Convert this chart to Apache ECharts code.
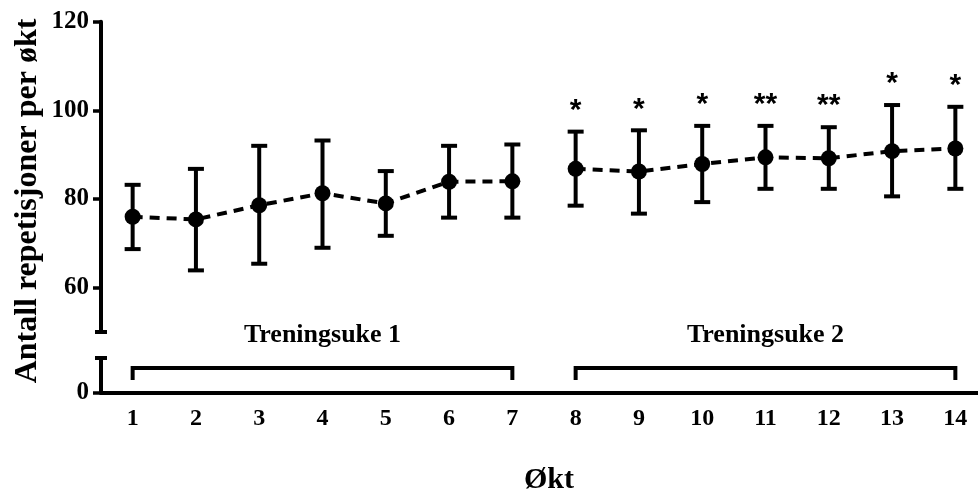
<!DOCTYPE html>
<html>
<head>
<meta charset="utf-8">
<script src="https://cdn.jsdelivr.net/npm/echarts@6/dist/echarts.min.js"></script>
<style>
  html, body { margin: 0; padding: 0; background: #fff; }
  #chart { width: 978px; height: 494px; }
</style>
</head>
<body>
<div id="chart"></div>
<script>
// data
var sessions = ["1", "2", "3", "4", "5", "6", "7", "8", "9", "10", "11", "12", "13", "14"];
var means = [76.0, 75.4, 78.6, 81.3, 79.0, 83.9, 84.0, 86.8, 86.2, 87.9, 89.4, 89.2, 90.8, 91.4];
var lower = [68.7, 63.9, 65.4, 69.0, 71.7, 75.8, 75.8, 78.5, 76.7, 79.3, 82.3, 82.3, 80.6, 82.3];
var upper = [83.2, 86.8, 92.0, 93.2, 86.3, 92.0, 92.3, 95.2, 95.5, 96.5, 96.5, 96.2, 101.2, 100.8];
var sig = ["", "", "", "", "", "", "", "*", "*", "*", "**", "**", "*", "*"];
var week1 = [0, 6];
var week2 = [7, 13];
var weekLabels = ["Treningsuke 1", "Treningsuke 2"];
var weekLabelPos = [3.1, 10.35];
var topTicks = [60, 80, 100, 120];

var serif = '"Liberation Serif", "Times New Roman", serif';

var chart = echarts.init(document.getElementById("chart"));

function weekData(range) {
  return means.map(function (v, i) {
    return i >= range[0] && i <= range[1] ? v : "-";
  });
}

var lineCommon = {
  type: "line",
  xAxisIndex: 0,
  yAxisIndex: 0,
  symbol: "circle",
  symbolSize: 16,
  connectNulls: false,
  itemStyle: { color: "#000" },
  lineStyle: { color: "#000", width: 4, type: [10, 7] },
  z: 5,
  animation: false
};

var option = {
  backgroundColor: "#fff",
  animation: false,
  grid: [
    { left: 101, top: 21.7, width: 886, height: 310.3, outerBoundsMode: "none" },
    { left: 101, top: 358, width: 886, height: 35, outerBoundsMode: "none" }
  ],
  xAxis: [
    {
      gridIndex: 0,
      type: "category",
      data: sessions,
      boundaryGap: true,
      show: false
    },
    {
      gridIndex: 1,
      type: "category",
      data: sessions,
      boundaryGap: true,
      name: "Økt",
      nameLocation: "middle",
      nameGap: 72,
      nameTextStyle: { fontFamily: serif, fontWeight: "bold", fontSize: 30, color: "#000", padding: [0, 0, 0, 10] },
      axisLine: { lineStyle: { color: "#000", width: 4 } },
      axisTick: { alignWithLabel: true, length: 6, lineStyle: { color: "#000", width: 3 } },
      axisLabel: { fontFamily: serif, fontWeight: "bold", fontSize: 24, color: "#000", margin: 14 },
      splitLine: { show: false }
    }
  ],
  yAxis: [
    {
      gridIndex: 0,
      type: "value",
      min: 50,
      max: 120,
      axisLine: { show: true, lineStyle: { color: "#000", width: 4 } },
      axisTick: { show: true, length: 8, customValues: topTicks, lineStyle: { color: "#000", width: 3.5 } },
      axisLabel: { customValues: topTicks, fontFamily: serif, fontWeight: "bold", fontSize: 25, color: "#000", margin: 12 },
      splitLine: { show: false }
    },
    {
      gridIndex: 1,
      type: "value",
      min: 0,
      max: 8,
      axisLine: { show: true, lineStyle: { color: "#000", width: 4 } },
      axisTick: { show: true, length: 8, customValues: [0], lineStyle: { color: "#000", width: 3.5 } },
      axisLabel: { customValues: [0], fontFamily: serif, fontWeight: "bold", fontSize: 25, color: "#000", margin: 12 },
      splitLine: { show: false }
    }
  ],
  graphic: [
    {
      type: "text",
      x: 28,
      y: 201,
      rotation: Math.PI / 2,
      style: {
        text: "Antall repetisjoner per økt",
        font: 'bold 32px ' + serif,
        fill: "#000",
        align: "center",
        verticalAlign: "middle"
      }
    }
  ],
  series: [
    // error bars + significance stars
    {
      type: "custom",
      xAxisIndex: 0,
      yAxisIndex: 0,
      clip: false,
      z: 3,
      data: sessions.map(function (s, i) { return [i, lower[i], upper[i]]; }),
      renderItem: function (params, api) {
        var lo = api.coord([api.value(0), api.value(1)]);
        var hi = api.coord([api.value(0), api.value(2)]);
        var x = lo[0];
        var cap = 8;
        var st = { stroke: "#000", lineWidth: 4 };
        var children = [
          { type: "line", shape: { x1: x, y1: lo[1], x2: x, y2: hi[1] }, style: st },
          { type: "line", shape: { x1: x - cap, y1: lo[1], x2: x + cap, y2: lo[1] }, style: st },
          { type: "line", shape: { x1: x - cap, y1: hi[1], x2: x + cap, y2: hi[1] }, style: st }
        ];
        var s = sig[params.dataIndex];
        if (s) {
          children.push({
            type: "text",
            x: x,
            y: hi[1] - 21,
            style: { text: s, font: 'bold 30px "Liberation Sans", Arial, sans-serif', fill: "#000", align: "center", verticalAlign: "middle" }
          });
        }
        return { type: "group", children: children };
      }
    },
    Object.assign({ name: "Uke 1", data: weekData(week1) }, lineCommon),
    Object.assign({ name: "Uke 2", data: weekData(week2) }, lineCommon),
    // break caps on the y axis
    {
      type: "custom",
      xAxisIndex: 0,
      yAxisIndex: 0,
      clip: false,
      data: [0],
      renderItem: function (params, api) {
        var cs = params.coordSys;
        var y = cs.y + cs.height;
        return { type: "line", shape: { x1: cs.x - 6, y1: y, x2: cs.x + 6, y2: y }, style: { stroke: "#000", lineWidth: 4 } };
      }
    },
    {
      type: "custom",
      xAxisIndex: 1,
      yAxisIndex: 1,
      clip: false,
      data: [0],
      renderItem: function (params, api) {
        var cs = params.coordSys;
        return { type: "line", shape: { x1: cs.x - 6, y1: cs.y, x2: cs.x + 6, y2: cs.y }, style: { stroke: "#000", lineWidth: 4 } };
      }
    },
    // week brackets
    {
      type: "custom",
      xAxisIndex: 1,
      yAxisIndex: 1,
      clip: false,
      data: [[week1[0], week1[1], 5.7, 0], [week2[0], week2[1], 5.7, 1]],
      renderItem: function (params, api) {
        var a = api.coord([api.value(0), api.value(2)]);
        var b = api.coord([api.value(1), api.value(2)]);
        var k = params.dataIndex;
        var lp = api.coord([weekLabelPos[k], api.value(2)]);
        var drop = 12;
        return {
          type: "group",
          children: [
            {
              type: "polyline",
              shape: { points: [[a[0], a[1] + drop], [a[0], a[1]], [b[0], b[1]], [b[0], b[1] + drop]] },
              style: { stroke: "#000", lineWidth: 4, fill: null }
            },
            {
              type: "text",
              x: lp[0],
              y: a[1] - 33,
              style: { text: weekLabels[k], font: 'bold 26px ' + serif, fill: "#000", align: "center", verticalAlign: "middle" }
            }
          ]
        };
      }
    }
  ]
};

chart.setOption(option);
</script>
</body>
</html>
